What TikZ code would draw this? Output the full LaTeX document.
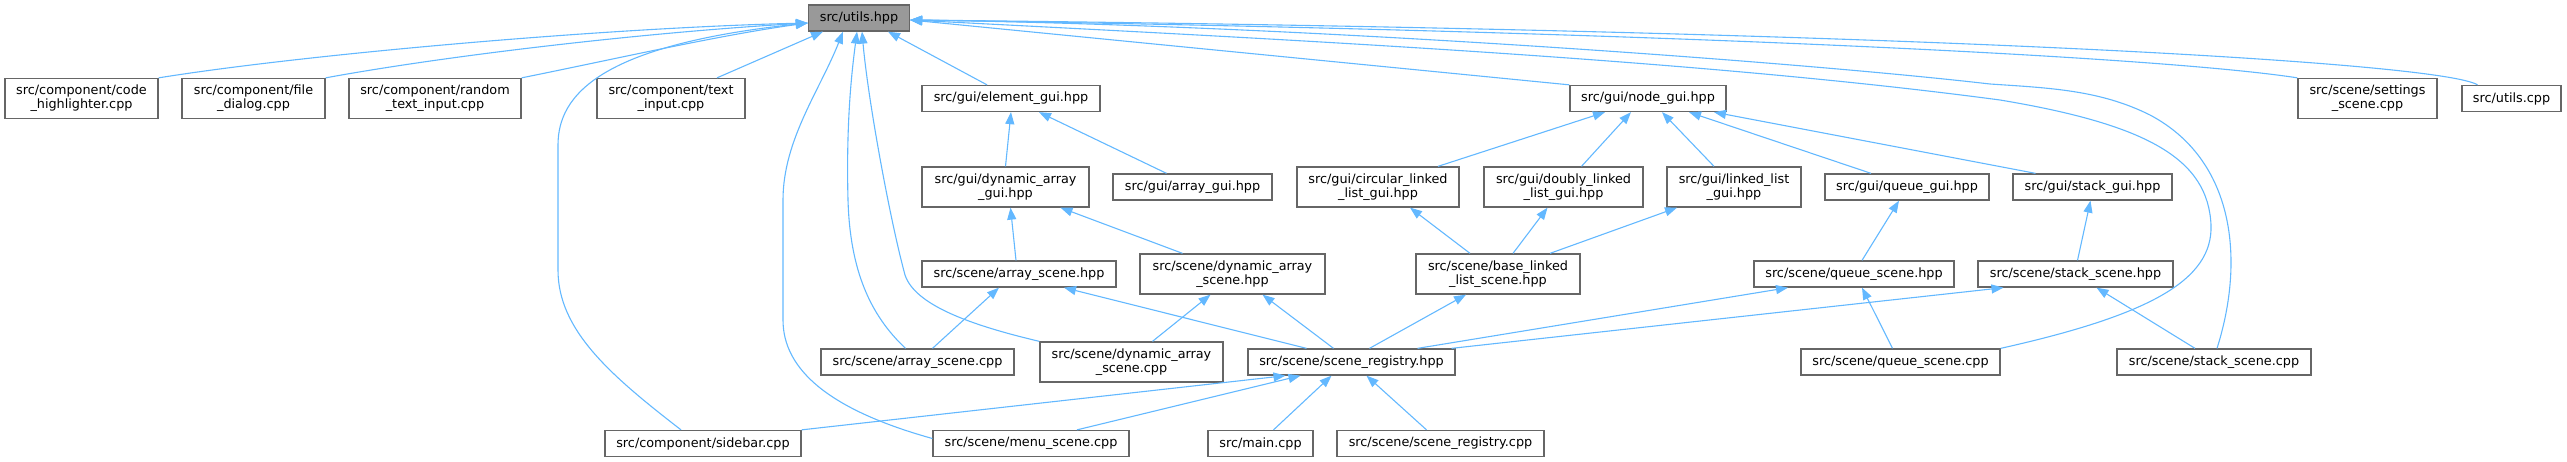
\documentclass[tikz,border=0pt]{standalone}
\usepackage{fontspec}
\setmainfont{DejaVu Sans}
\usepackage{tikz}
\usetikzlibrary{arrows.meta}
\definecolor{edgeblue}{HTML}{63B8FF}
\definecolor{boxgray}{HTML}{666666}
\definecolor{rootfill}{HTML}{999999}

\begin{document}
\begin{tikzpicture}[x=1pt, y=-1pt,
  box/.style={draw=boxgray, line width=1.3pt, fill=white, align=center,
    inner sep=0pt, font=\fontsize{12.8}{14}\selectfont, minimum height=26pt},
  two/.style={minimum height=40pt},
  rootbox/.style={box, fill=rootfill},
  inc/.style={-{Triangle[length=12pt,width=9pt]}, edgeblue, line width=1.1pt},
]
\useasboundingbox (0,0) rectangle (2567,461);
\node[rootbox, minimum width=101pt] (utils) at (859,18) {src/utils.hpp};
% --- row 1 ---
\node[box, two, minimum width=153pt] (codehl) at (81.5,98.5) {src/component/code\\\_highlighter.cpp};
\node[box, two, minimum width=143pt] (filedlg) at (253.5,98.5) {src/component/file\\\_dialog.cpp};
\node[box, two, minimum width=172pt] (randin) at (435,98.5) {src/component/random\\\_text\_input.cpp};
\node[box, two, minimum width=148pt] (textin) at (671,98.5) {src/component/text\\\_input.cpp};
\node[box, minimum width=178pt] (elemgui) at (1011,98.5) {src/gui/element\_gui.hpp};
\node[box, minimum width=156pt] (nodegui) at (1648,98.5) {src/gui/node\_gui.hpp};
\node[box, two, minimum width=139pt] (settings) at (2367.5,98.5) {src/scene/settings\\\_scene.cpp};
\node[box, minimum width=99pt] (utilscpp) at (2511.5,98.5) {src/utils.cpp};
% --- row 2 ---
\node[box, two, minimum width=167pt] (dyngui) at (1005.5,187) {src/gui/dynamic\_array\\\_gui.hpp};
\node[box, minimum width=159pt] (arrgui) at (1192.5,187) {src/gui/array\_gui.hpp};
\node[box, two, minimum width=162pt] (circgui) at (1378,187) {src/gui/circular\_linked\\\_list\_gui.hpp};
\node[box, two, minimum width=159pt] (dblgui) at (1563.5,187) {src/gui/doubly\_linked\\\_list\_gui.hpp};
\node[box, two, minimum width=134pt] (llgui) at (1734,187) {src/gui/linked\_list\\\_gui.hpp};
\node[box, minimum width=164pt] (queuegui) at (1907,187) {src/gui/queue\_gui.hpp};
\node[box, minimum width=159pt] (stackgui) at (2092.5,187) {src/gui/stack\_gui.hpp};
% --- row 3 ---
\node[box, minimum width=194pt] (arrscenehpp) at (1019,274) {src/scene/array\_scene.hpp};
\node[box, two, minimum width=185pt] (dynscenehpp) at (1232.5,274) {src/scene/dynamic\_array\\\_scene.hpp};
\node[box, two, minimum width=164pt] (baselist) at (1498,274) {src/scene/base\_linked\\\_list\_scene.hpp};
\node[box, minimum width=200pt] (queuescenehpp) at (1854,274) {src/scene/queue\_scene.hpp};
\node[box, minimum width=195pt] (stackscenehpp) at (2075.5,274) {src/scene/stack\_scene.hpp};
% --- row 4 ---
\node[box, minimum width=193pt] (arrscenecpp) at (917.5,362) {src/scene/array\_scene.cpp};
\node[box, two, minimum width=183pt] (dynscenecpp) at (1131.5,362) {src/scene/dynamic\_array\\\_scene.cpp};
\node[box, minimum width=207pt] (registryhpp) at (1351.5,362) {src/scene/scene\_registry.hpp};
\node[box, minimum width=199pt] (queuescenecpp) at (1900.5,362) {src/scene/queue\_scene.cpp};
\node[box, minimum width=194pt] (stackscenecpp) at (2214,362) {src/scene/stack\_scene.cpp};
% --- row 5 ---
\node[box, minimum width=196pt] (sidebar) at (703,443.5) {src/component/sidebar.cpp};
\node[box, minimum width=196pt] (menu) at (1031,443.5) {src/scene/menu\_scene.cpp};
\node[box, minimum width=105pt] (mainsrc) at (1260.5,443.5) {src/main.cpp};
\node[box, minimum width=207pt] (registrycpp) at (1440.5,443.5) {src/scene/scene\_registry.cpp};
% --- includes of utils.hpp ---
\draw[inc] (codehl.north east) .. controls (300,55) and (600,28) .. ([yshift=-5pt]utils.west);
\draw[inc] (filedlg.north east) .. controls (450,55) and (650,32) .. ([yshift=-5pt]utils.west);
\draw[inc] (randin.north east) .. controls (620,58) and (720,35) .. ([yshift=-5pt]utils.west);
\draw[inc] ([xshift=46pt]textin.north) -- ([xshift=-36pt]utils.south);
\draw[inc] ([xshift=-22pt]sidebar.north) .. controls (610,375) and (558,330) .. (558,270)
  -- (558,145) .. controls (558,95) and (600,45) .. ([yshift=-5pt]utils.west);
\draw[inc] ([yshift=5pt]menu.west) .. controls (830,410) and (783,370) .. (783,320)
  -- (783,200) .. controls (783,140) and (820,90) .. ([xshift=-16pt]utils.south);
\draw[inc] ([xshift=-12pt]arrscenecpp.north) .. controls (870,315) and (850,270) .. (848,200)
  .. controls (846,120) and (852,70) .. ([xshift=-2pt]utils.south);
\draw[inc] (dynscenecpp.north west) .. controls (970,325) and (915,305) .. (905,275)
  .. controls (890,220) and (868,100) .. ([xshift=3pt]utils.south);
\draw[inc] ([xshift=-24pt]elemgui.north) -- ([xshift=29pt]utils.south);
\draw[inc] (nodegui.north west) -- ([yshift=-2pt]utils.east);
\draw[inc] (settings.north west) .. controls (2150,55) and (1600,30) .. ([yshift=-2pt]utils.east);
\draw[inc] ([xshift=-34pt]utilscpp.north) .. controls (2440,62) and (1900,30) .. ([yshift=-2pt]utils.east);
\draw[inc] ([xshift=3pt]stackscenecpp.north) .. controls (2245,260) and (2235,160) .. (2150,115)
  .. controls (2100,90) and (2050,88) .. (1990,84)
  .. controls (1800,62) and (1300,25) .. ([yshift=-2pt]utils.east);
\draw[inc] (queuescenecpp.north east) .. controls (2150,315) and (2213,280) .. (2211,225)
  .. controls (2208,160) and (2150,125) .. (2000,100)
  .. controls (1700,60) and (1300,40) .. ([yshift=-2pt]utils.east);
% --- gui headers ---
\draw[inc] (dyngui.north) -- (elemgui.south);
\draw[inc] ([xshift=-26pt]arrgui.north) -- ([xshift=28pt]elemgui.south);
\draw[inc] ([xshift=60pt]circgui.north) -- ([xshift=-43pt]nodegui.south);
\draw[inc] ([xshift=18pt]dblgui.north) -- ([xshift=-17pt]nodegui.south);
\draw[inc] ([xshift=-20pt]llgui.north) -- ([xshift=14pt]nodegui.south);
\draw[inc] ([xshift=-36pt]queuegui.north) -- ([xshift=41pt]nodegui.south);
\draw[inc] ([xshift=-57pt]stackgui.north) -- ([xshift=66pt]nodegui.south);
% --- scene headers ---
\draw[inc] ([xshift=-3pt]arrscenehpp.north) -- ([xshift=5pt]dyngui.south);
\draw[inc] ([xshift=-50pt]dynscenehpp.north) -- ([xshift=55pt]dyngui.south);
\draw[inc] ([xshift=-28pt]baselist.north) -- ([xshift=32pt]circgui.south);
\draw[inc] ([xshift=15pt]baselist.north) -- ([xshift=-16pt]dblgui.south);
\draw[inc] ([xshift=52pt]baselist.north) -- ([xshift=-57pt]llgui.south);
\draw[inc] ([xshift=8pt]queuescenehpp.north) -- ([xshift=-8pt]queuegui.south);
\draw[inc] ([xshift=2pt]stackscenehpp.north) -- ([xshift=-2pt]stackgui.south);
% --- scene sources and registry ---
\draw[inc] ([xshift=15pt]arrscenecpp.north) -- ([xshift=-20pt]arrscenehpp.south);
\draw[inc] ([xshift=21pt]dynscenecpp.north) -- ([xshift=-22pt]dynscenehpp.south);
\draw[inc] ([xshift=-45pt]registryhpp.north) -- ([xshift=45pt]arrscenehpp.south);
\draw[inc] ([xshift=-18pt]registryhpp.north) -- ([xshift=30pt]dynscenehpp.south);
\draw[inc] ([xshift=18pt]registryhpp.north) -- ([xshift=-32pt]baselist.south);
\draw[inc] ([xshift=66pt]registryhpp.north) -- ([xshift=-66pt]queuescenehpp.south);
\draw[inc] ([xshift=100pt]registryhpp.north) -- ([xshift=-72pt]stackscenehpp.south);
\draw[inc] ([xshift=-8pt]queuescenecpp.north) -- ([xshift=8pt]queuescenehpp.south);
\draw[inc] ([xshift=-19pt]stackscenecpp.north) -- ([xshift=21pt]stackscenehpp.south);
% --- users of the registry ---
\draw[inc] (sidebar.north east) -- ([xshift=-66pt]registryhpp.south);
\draw[inc] ([xshift=46pt]menu.north) -- ([xshift=-51pt]registryhpp.south);
\draw[inc] ([xshift=13pt]mainsrc.north) -- ([xshift=-20pt]registryhpp.south);
\draw[inc] ([xshift=-14pt]registrycpp.north) -- ([xshift=15pt]registryhpp.south);
\end{tikzpicture}
\end{document}
